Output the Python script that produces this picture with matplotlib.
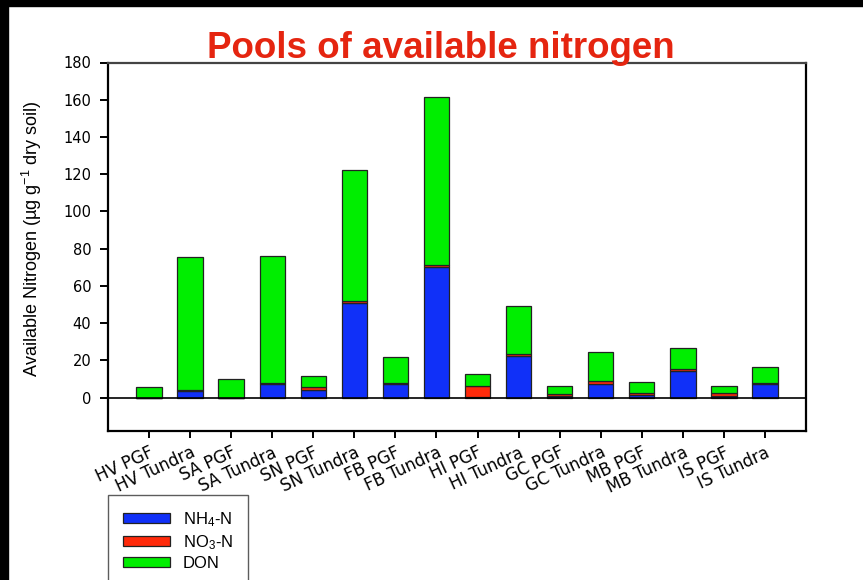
import matplotlib
matplotlib.use("Agg")
import matplotlib.pyplot as plt
import matplotlib.transforms as mtransforms
from matplotlib.patches import Rectangle
import numpy as np

plt.rcParams['font.family'] = ['Liberation Sans', 'DejaVu Sans']
plt.rcParams['mathtext.fontset'] = 'custom'
plt.rcParams['mathtext.rm'] = 'Liberation Sans'
plt.rcParams['mathtext.default'] = 'regular'

# Site / vegetation type
sites = ['HV PGF', 'HV Tundra', 'SA PGF', 'SA Tundra', 'SN PGF', 'SN Tundra',
         'FB PGF', 'FB Tundra', 'HI PGF', 'HI Tundra', 'GC PGF', 'GC Tundra',
         'MB PGF', 'MB Tundra', 'IS PGF', 'IS Tundra']

# Nitrogen pools (ug N per g dry soil)
nh4 = [0.0, 3.6, 0.0, 7.2, 4.2, 51.0, 7.0, 70.1, 0.3, 22.3, 0.7, 7.4, 1.3, 14.0, 0.7, 7.5]
no3 = [0.0, 0.3, 0.0, 0.4, 1.6, 1.1, 0.9, 1.1, 5.8, 1.1, 1.1, 1.2, 1.1, 1.1, 1.8, 0.4]
don = [5.7, 71.6, 9.9, 68.4, 5.7, 70.1, 14.0, 90.0, 6.5, 25.7, 4.5, 15.9, 5.7, 11.7, 3.8, 8.3]

yticks = list(range(0, 181, 20))

W, H = 863, 580
fig = plt.figure(figsize=(W / 100, H / 100), dpi=100)
ax = fig.add_axes([108 / W, 1 - 431 / H, (806 - 108) / W, (431 - 62.5) / H])

x = np.arange(len(sites))
nh4 = np.array(nh4)
no3 = np.array(no3)
don = np.array(don)
width = 0.62
edge = dict(edgecolor='#222222', linewidth=0.9)
ax.bar(x, nh4, width, color='#1030F8', label='NH$_4$-N', **edge)
ax.bar(x, no3, width, bottom=nh4, color='#FF2A0A', label='NO$_3$-N', **edge)
ax.bar(x, don, width, bottom=nh4 + no3, color='#00EE00', label='DON', **edge)

ax.axhline(0, color='black', linewidth=1.2, zorder=3)

ax.set_xlim(-1, len(sites))
ax.set_ylim(-18, 180)
ax.set_yticks(yticks)
ax.set_yticklabels([str(v) for v in yticks], family='DejaVu Sans', fontsize=10.5)
ax.set_xticks(x)
ax.set_xticklabels(sites, rotation=25, ha='right', va='top',
                   rotation_mode='anchor', family='DejaVu Sans', fontsize=12)
shift = mtransforms.ScaledTranslation(3 / 100, 0, fig.dpi_scale_trans)
for lbl in ax.get_xticklabels():
    lbl.set_transform(lbl.get_transform() + shift)

ax.tick_params(axis='y', direction='out', length=6, width=1.4, pad=6)
ax.tick_params(axis='x', direction='out', length=5, width=1.4, pad=4)
for s in ax.spines.values():
    s.set_linewidth(1.6)
    s.set_color('black')
ax.spines['top'].set_color('#444444')

fig.text(32 / W, 1 - 239 / H, 'Available Nitrogen (µg g$^{-1}$ dry soil)',
         rotation=90, ha='center', va='center', fontsize=13)

fig.text(441 / W, 1 - 57.7 / H, 'Pools of available nitrogen', color='#E52510',
         fontsize=26.5, fontweight='bold', ha='center', va='baseline')

leg = fig.legend(loc='upper left', bbox_to_anchor=(108 / W, 1 - 495 / H),
                 bbox_transform=fig.transFigure, fontsize=12, frameon=True,
                 fancybox=False, borderpad=0.9, handlelength=2.8,
                 handleheight=0.6, handletextpad=0.8, labelspacing=0.25,
                 borderaxespad=0)
leg.get_frame().set_edgecolor('#333333')
leg.get_frame().set_linewidth(1.0)

# dark slide edge along top and left
fig.patches.append(Rectangle((0, 1 - 6 / H), 1, 6 / H, transform=fig.transFigure,
                             color='black', zorder=10))
fig.patches.append(Rectangle((0, 0), 8 / W, 1, transform=fig.transFigure,
                             color='black', zorder=10))

fig.savefig('out.png', dpi=100)
